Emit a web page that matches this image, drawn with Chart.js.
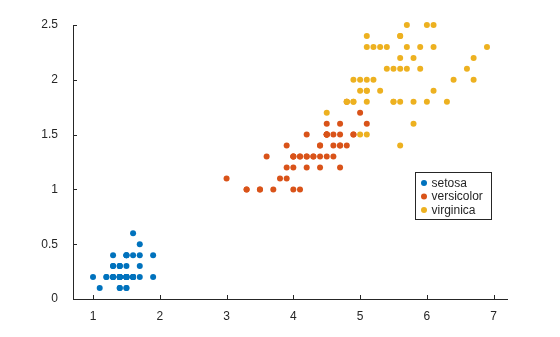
<!DOCTYPE html>
<html>
<head>
<meta charset="utf-8">
<script src="https://cdn.jsdelivr.net/npm/chart.js@4"></script>
<style>
  html, body { margin: 0; padding: 0; background: #fff; }
  #wrap { width: 560px; height: 337px; }
</style>
</head>
<body>
<div id="wrap"><canvas id="iris"></canvas></div>
<script>
const species = ["setosa", "versicolor", "virginica"];
const colors = ["#0072BD", "#D95319", "#EDB120"];
const xTicks = [1, 2, 3, 4, 5, 6, 7];
const yTicks = [0, 0.5, 1, 1.5, 2, 2.5];

// petal length / petal width pairs
const setosaLength = [1.4, 1.4, 1.3, 1.5, 1.4, 1.7, 1.4, 1.5, 1.4, 1.5, 1.5, 1.6, 1.4, 1.1, 1.2, 1.5, 1.3, 1.4, 1.7, 1.5, 1.7, 1.5, 1.0, 1.7, 1.9, 1.6, 1.6, 1.5, 1.4, 1.6, 1.6, 1.5, 1.5, 1.4, 1.5, 1.2, 1.3, 1.4, 1.3, 1.5, 1.3, 1.3, 1.3, 1.6, 1.9, 1.4, 1.6, 1.4, 1.5, 1.4];
const setosaWidth = [0.2, 0.2, 0.2, 0.2, 0.2, 0.4, 0.3, 0.2, 0.2, 0.1, 0.2, 0.2, 0.1, 0.1, 0.2, 0.4, 0.4, 0.3, 0.3, 0.3, 0.2, 0.4, 0.2, 0.5, 0.2, 0.2, 0.4, 0.2, 0.2, 0.2, 0.2, 0.4, 0.1, 0.2, 0.2, 0.2, 0.2, 0.1, 0.2, 0.2, 0.3, 0.3, 0.2, 0.6, 0.4, 0.3, 0.2, 0.2, 0.2, 0.2];
const versicolorLength = [4.7, 4.5, 4.9, 4.0, 4.6, 4.5, 4.7, 3.3, 4.6, 3.9, 3.5, 4.2, 4.0, 4.7, 3.6, 4.4, 4.5, 4.1, 4.5, 3.9, 4.8, 4.0, 4.9, 4.7, 4.3, 4.4, 4.8, 5.0, 4.5, 3.5, 3.8, 3.7, 3.9, 5.1, 4.5, 4.5, 4.7, 4.4, 4.1, 4.0, 4.4, 4.6, 4.0, 3.3, 4.2, 4.2, 4.2, 4.3, 3.0, 4.1];
const versicolorWidth = [1.4, 1.5, 1.5, 1.3, 1.5, 1.3, 1.6, 1.0, 1.3, 1.4, 1.0, 1.5, 1.0, 1.4, 1.3, 1.4, 1.5, 1.0, 1.5, 1.1, 1.8, 1.3, 1.5, 1.2, 1.3, 1.4, 1.4, 1.7, 1.5, 1.0, 1.1, 1.0, 1.2, 1.6, 1.5, 1.6, 1.5, 1.3, 1.3, 1.3, 1.2, 1.4, 1.2, 1.0, 1.3, 1.2, 1.3, 1.3, 1.1, 1.3];
const virginicaLength = [6.0, 5.1, 5.9, 5.6, 5.8, 6.6, 4.5, 6.3, 5.8, 6.1, 5.1, 5.3, 5.5, 5.0, 5.1, 5.3, 5.5, 6.7, 6.9, 5.0, 5.7, 4.9, 6.7, 4.9, 5.7, 6.0, 4.8, 4.9, 5.6, 5.8, 6.1, 6.4, 5.6, 5.1, 5.6, 6.1, 5.6, 5.5, 4.8, 5.4, 5.6, 5.1, 5.1, 5.9, 5.7, 5.2, 5.0, 5.2, 5.4, 5.1];
const virginicaWidth = [2.5, 1.9, 2.1, 1.8, 2.2, 2.1, 1.7, 1.8, 1.8, 2.5, 2.0, 1.9, 2.1, 2.0, 2.4, 2.3, 1.8, 2.2, 2.3, 1.5, 2.3, 2.0, 2.0, 1.8, 2.1, 1.8, 1.8, 1.8, 2.1, 1.6, 1.9, 2.0, 2.2, 1.5, 1.4, 2.3, 2.4, 1.8, 1.8, 2.1, 2.4, 2.3, 1.9, 2.3, 2.5, 2.3, 1.9, 2.0, 2.3, 1.8];

const groups = [
  [setosaLength, setosaWidth],
  [versicolorLength, versicolorWidth],
  [virginicaLength, virginicaWidth],
];

const axisColor = "#262626";
const fontFamily = "'Liberation Sans', Arial, sans-serif";

// MATLAB-ish axes: inward ticks, no box
const inwardTicks = {
  id: "inwardTicks",
  afterDraw(chart) {
    const ctx = chart.ctx;
    const xs = chart.scales.x, ys = chart.scales.y;
    const area = chart.chartArea;
    ctx.save();
    ctx.strokeStyle = axisColor;
    ctx.lineWidth = 1;
    ctx.beginPath();
    xs.ticks.forEach((t) => {
      const px = Math.round(xs.getPixelForValue(t.value)) + 0.5;
      ctx.moveTo(px, area.bottom);
      ctx.lineTo(px, area.bottom - 4);
    });
    ys.ticks.forEach((t) => {
      const py = Math.round(ys.getPixelForValue(t.value)) + 0.5;
      ctx.moveTo(area.left, py);
      ctx.lineTo(area.left + 4, py);
    });
    ctx.stroke();
    ctx.restore();
  },
};

const boxLegend = {
  id: "boxLegend",
  afterDraw(chart) {
    const ctx = chart.ctx;
    const x = 415.5, y = 172.5, w = 76, h = 47;
    ctx.save();
    ctx.fillStyle = "#fff";
    ctx.fillRect(x, y, w, h);
    ctx.strokeStyle = axisColor;
    ctx.lineWidth = 1;
    ctx.strokeRect(x, y, w, h);
    ctx.font = "12px " + fontFamily;
    ctx.textBaseline = "middle";
    chart.data.datasets.forEach((ds, i) => {
      const cy = y + 10.5 + i * 13.5;
      ctx.fillStyle = ds.backgroundColor;
      ctx.beginPath();
      ctx.arc(x + 8.5, cy, 3, 0, Math.PI * 2);
      ctx.fill();
      ctx.fillStyle = axisColor;
      ctx.fillText(ds.label, x + 16, cy + 0.5);
    });
    ctx.restore();
  },
};

new Chart(document.getElementById("iris"), {
  type: "scatter",
  data: {
    datasets: species.map((name, i) => ({
      label: name,
      data: groups[i][0].map((v, j) => ({ x: v, y: groups[i][1][j] })),
      backgroundColor: colors[i],
      borderWidth: 0,
      pointRadius: 3,
      clip: false,
      order: species.length - i,
    })),
  },
  options: {
    responsive: true,
    maintainAspectRatio: false,
    animation: false,
    layout: { padding: { top: 25, right: 53, left: 0, bottom: 0 } },
    plugins: { legend: { display: false }, tooltip: { enabled: false } },
    scales: {
      x: {
        type: "linear",
        min: 0.7,
        max: 7.2,
        afterBuildTicks: (s) => { s.ticks = xTicks.map((v) => ({ value: v })); },
        afterFit: (s) => { s.height = 38; },
        grid: { display: false },
        border: { color: axisColor, width: 1 },
        ticks: { color: axisColor, font: { family: fontFamily, size: 12 }, padding: 2, callback: (v) => String(v) },
      },
      y: {
        type: "linear",
        min: 0,
        max: 2.5,
        afterBuildTicks: (s) => { s.ticks = yTicks.map((v) => ({ value: v })); },
        afterFit: (s) => { s.width = 73; },
        grid: { display: false },
        border: { color: axisColor, width: 1 },
        ticks: { color: axisColor, font: { family: fontFamily, size: 12 }, padding: 7, callback: (v) => String(v) },
      },
    },
  },
  plugins: [inwardTicks, boxLegend],
});
</script>
</body>
</html>
